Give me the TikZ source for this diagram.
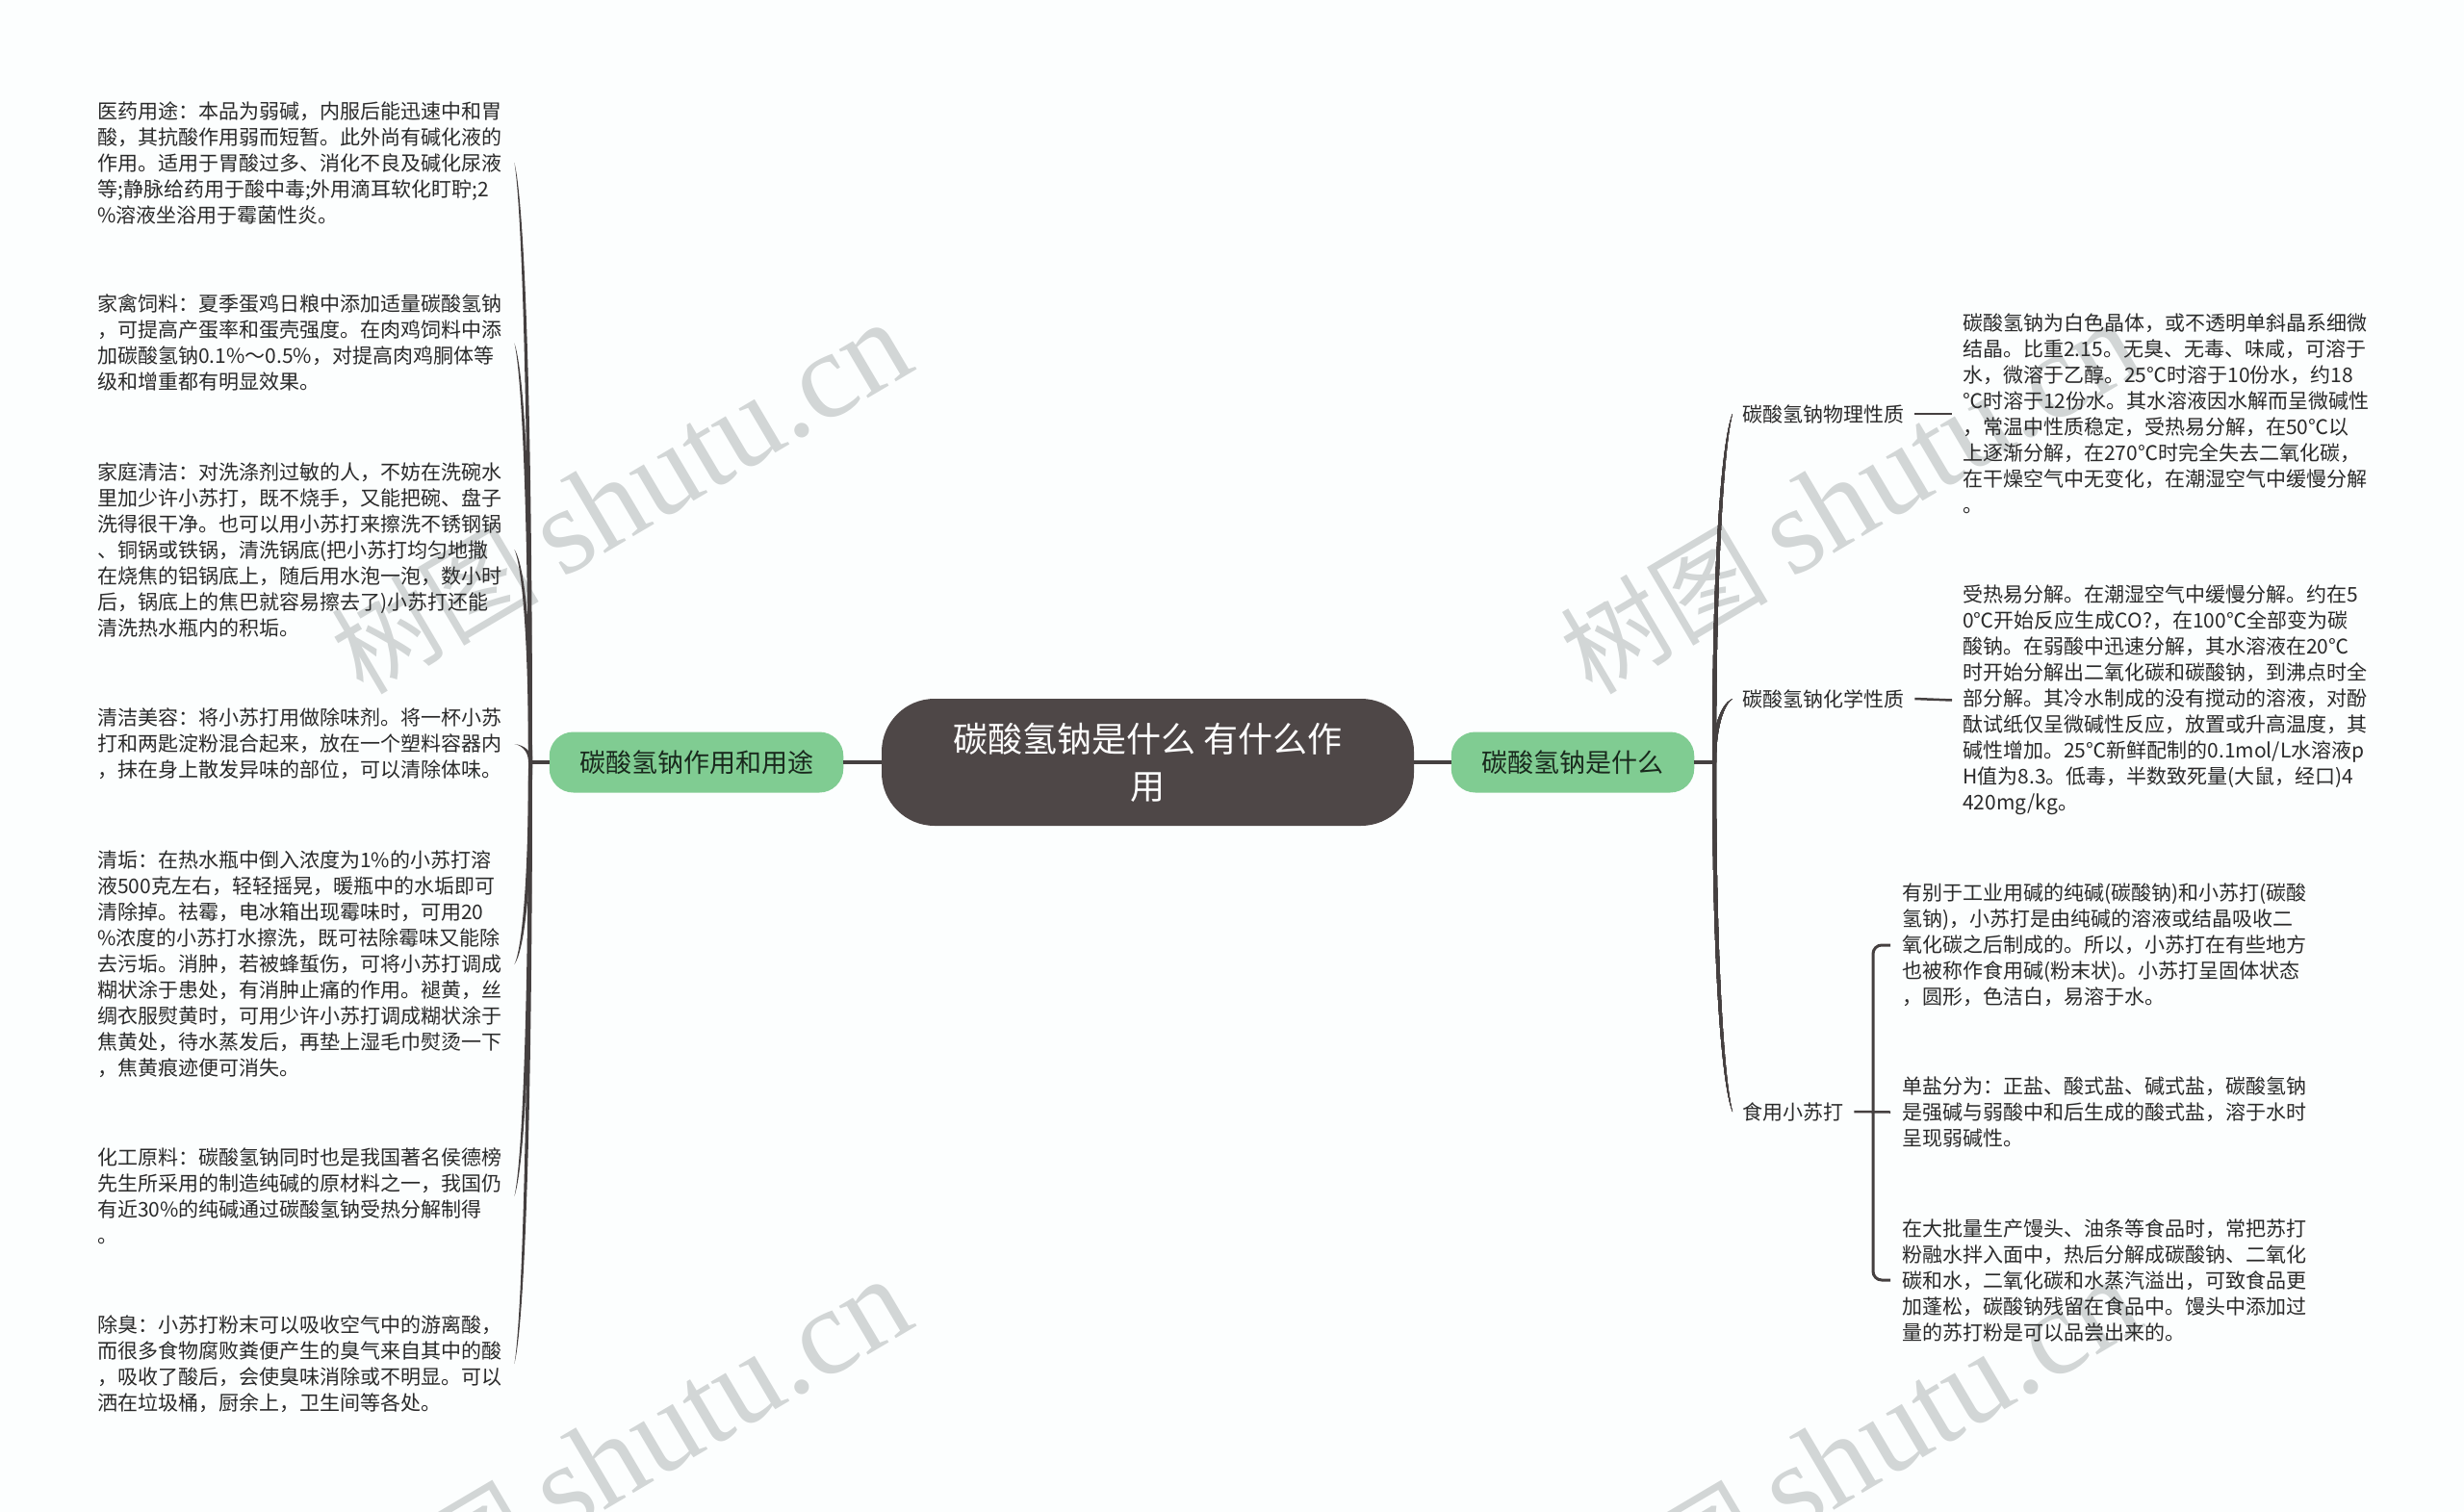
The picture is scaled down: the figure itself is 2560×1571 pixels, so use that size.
\documentclass[tikz,border=0pt]{standalone}
\usepackage{fontspec}
\setmainfont{Noto Sans CJK SC}
\newfontfamily\marklatin{Liberation Serif}
\usetikzlibrary{calc}
\definecolor{paper}{HTML}{FCFEFE}
\definecolor{rootfill}{HTML}{4E4747}
\definecolor{mainfill}{HTML}{80CC92}
\definecolor{linkcol}{HTML}{454040}
\definecolor{markcol}{HTML}{D2D6D6}
\definecolor{textcol}{HTML}{2A2A2A}
\newcommand{\taper}[2]{\fill[linkcol] let \p1=(#1),\p2=(#2),
	\n1={\y2+0.35*(\y1-\y2)},\n2={\y2+0.06*(\y1-\y2)},\n3={sign(\x2-\x1)} in
	({\x1-2pt},\y1) .. controls ({\x1-2pt},{\n1*1pt}) and ({\x2-\n3*8pt-1.5pt},{\n2*1pt}) .. (\x2,\y2)
	.. controls ({\x2-\n3*8pt+1.5pt},{\n2*1pt}) and ({\x1+2pt},{\n1*1pt}) .. ({\x1+2pt},\y1) -- cycle;}
\begin{document}
\begin{tikzpicture}[x=1pt,y=-1pt,
	leaf/.style={anchor=west,inner sep=0pt,text width=420pt,align=left,text=textcol,
		font=\fontsize{21}{27}\selectfont},
	sublabel/.style={anchor=west,inner sep=0pt,text=textcol,font=\fontsize{21}{27}\selectfont},
	mainbox/.style={fill=mainfill,rounded corners=25pt,minimum height=63pt,inner sep=0pt,
		text=black!80!mainfill,font=\fontsize{27}{27}\selectfont},
	link/.style={draw=linkcol,line width=3.5pt},
	dashlink/.style={draw=linkcol,line width=2.5pt},
	watermark/.style={rotate=30.6,text=markcol,inner sep=0pt,font=\fontsize{108}{108}\selectfont}]
	\useasboundingbox (0,0) rectangle (2560,1571);
	\fill[paper] (0,0) rectangle (2560,1571);
	\begin{scope}
	\clip (0,0) rectangle (2560,1571);
	\foreach \i/\j in {645/518,645/1512,1922/518,1922/1512}
		\node[watermark] (mark\i-\j) at (\i,\j) {树图 {\marklatin\fontsize{128}{128}\selectfont shutu.cn}};
	\end{scope}
	\node[fill=rootfill,rounded corners=55pt,minimum width=553pt,minimum height=132pt,inner sep=0pt,
		text=white,align=center,font=\fontsize{36}{49}\selectfont] (root) at (1192.5,792)
		{碳酸氢钠是什么 有什么作\\用};
	\node[mainbox,minimum width=305.5pt] (uses) at (723.5,792) {碳酸氢钠作用和用途};
	\node[mainbox,minimum width=252.5pt] (whatis) at (1634,792) {碳酸氢钠是什么};
	\coordinate (lefttrunk) at (551,792);
	\coordinate (righttrunk) at (1781,792);
	\node[leaf] (medicine) at (101,169) {医药用途：本品为弱碱，内服后能迅速中和胃\\酸，其抗酸作用弱而短暂。此外尚有碱化液的\\作用。适用于胃酸过多、消化不良及碱化尿液\\等;静脉给药用于酸中毒;外用滴耳软化盯聍;2\\\%溶液坐浴用于霉菌性炎。};
	\node[leaf] (poultry) at (101,356.5) {家禽饲料：夏季蛋鸡日粮中添加适量碳酸氢钠\\，可提高产蛋率和蛋壳强度。在肉鸡饲料中添\\加碳酸氢钠0.1\%～0.5\%，对提高肉鸡胴体等\\级和增重都有明显效果。};
	\node[leaf] (kitchen) at (101,571) {家庭清洁：对洗涤剂过敏的人，不妨在洗碗水\\里加少许小苏打，既不烧手，又能把碗、盘子\\洗得很干净。也可以用小苏打来擦洗不锈钢锅\\、铜锅或铁锅，清洗锅底(把小苏打均匀地撒\\在烧焦的铝锅底上，随后用水泡一泡，数小时\\后，锅底上的焦巴就容易擦去了)小苏打还能\\清洗热水瓶内的积垢。};
	\node[leaf] (beauty) at (101,773) {清洁美容：将小苏打用做除味剂。将一杯小苏\\打和两匙淀粉混合起来，放在一个塑料容器内\\，抹在身上散发异味的部位，可以清除体味。};
	\node[leaf] (descale) at (101,1002) {清垢：在热水瓶中倒入浓度为1\%的小苏打溶\\液500克左右，轻轻摇晃，暖瓶中的水垢即可\\清除掉。祛霉，电冰箱出现霉味时，可用20\\\%浓度的小苏打水擦洗，既可祛除霉味又能除\\去污垢。消肿，若被蜂蜇伤，可将小苏打调成\\糊状涂于患处，有消肿止痛的作用。褪黄，丝\\绸衣服熨黄时，可用少许小苏打调成糊状涂于\\焦黄处，待水蒸发后，再垫上湿毛巾熨烫一下\\，焦黄痕迹便可消失。};
	\node[leaf] (chemical) at (101,1243) {化工原料：碳酸氢钠同时也是我国著名侯德榜\\先生所采用的制造纯碱的原材料之一，我国仍\\有近30\%的纯碱通过碳酸氢钠受热分解制得\\。};
	\node[leaf] (deodor) at (101,1417) {除臭：小苏打粉末可以吸收空气中的游离酸，\\而很多食物腐败粪便产生的臭气来自其中的酸\\，吸收了酸后，会使臭味消除或不明显。可以\\洒在垃圾桶，厨余上，卫生间等各处。};
	\node[sublabel] (physical) at (1810,430) {碳酸氢钠物理性质};
	\node[sublabel] (reaction) at (1810,726) {碳酸氢钠化学性质};
	\node[sublabel] (baking) at (1810,1155) {食用小苏打};
	\node[leaf] (physicaltext) at (2039,430) {碳酸氢钠为白色晶体，或不透明单斜晶系细微\\结晶。比重2.15。无臭、无毒、味咸，可溶于\\水，微溶于乙醇。25℃时溶于10份水，约18\\℃时溶于12份水。其水溶液因水解而呈微碱性\\，常温中性质稳定，受热易分解，在50℃以\\上逐渐分解，在270℃时完全失去二氧化碳，\\在干燥空气中无变化，在潮湿空气中缓慢分解\\。};
	\node[leaf] (reactiontext) at (2039,727.5) {受热易分解。在潮湿空气中缓慢分解。约在5\\0℃开始反应生成CO?，在100℃全部变为碳\\酸钠。在弱酸中迅速分解，其水溶液在20℃\\时开始分解出二氧化碳和碳酸钠，到沸点时全\\部分解。其冷水制成的没有搅动的溶液，对酚\\酞试纸仅呈微碱性反应，放置或升高温度，其\\碱性增加。25℃新鲜配制的0.1mol/L水溶液p\\H值为8.3。低毒，半数致死量(大鼠，经口)4\\420mg/kg。};
	\node[leaf] (bakingone) at (1976,982) {有别于工业用碱的纯碱(碳酸钠)和小苏打(碳酸\\氢钠)，小苏打是由纯碱的溶液或结晶吸收二\\氧化碳之后制成的。所以，小苏打在有些地方\\也被称作食用碱(粉末状)。小苏打呈固体状态\\，圆形，色洁白，易溶于水。};
	\node[leaf] (bakingtwo) at (1976,1155.5) {单盐分为：正盐、酸式盐、碱式盐，碳酸氢钠\\是强碱与弱酸中和后生成的酸式盐，溶于水时\\呈现弱碱性。};
	\node[leaf] (bakingthree) at (1976,1330) {在大批量生产馒头、油条等食品时，常把苏打\\粉融水拌入面中，热后分解成碳酸钠、二氧化\\碳和水，二氧化碳和水蒸汽溢出，可致食品更\\加蓬松，碳酸钠残留在食品中。馒头中添加过\\量的苏打粉是可以品尝出来的。};
	\draw[link] (root) -- (uses);
	\draw[link] (root) -- (whatis);
	\draw[link] (uses) -- (lefttrunk);
	\draw[link] (whatis) -- (righttrunk);
	\foreach \name in {medicine,poultry,kitchen,beauty,descale,chemical,deodor}
		\taper{lefttrunk}{[xshift=13pt]\name.east}
	\foreach \name in {physical,reaction,baking}
		\taper{righttrunk}{[xshift=-10pt]\name.west}
	\draw[dashlink] ([xshift=11pt]physical.east) -- ([xshift=-11pt]physicaltext.west);
	\draw[dashlink] ([xshift=11pt]reaction.east) -- ([xshift=-11pt]reactiontext.west);
	\draw[dashlink] ([xshift=11pt]baking.east) -- ([xshift=-12pt]bakingtwo.west);
	\coordinate (bakingfork) at (1946,1155.5);
	\draw[dashlink,line width=3pt,rounded corners=9pt] ([xshift=-12pt]bakingone.west) -| (bakingfork) |- ([xshift=-12pt]bakingthree.west);
\end{tikzpicture}
\end{document}
